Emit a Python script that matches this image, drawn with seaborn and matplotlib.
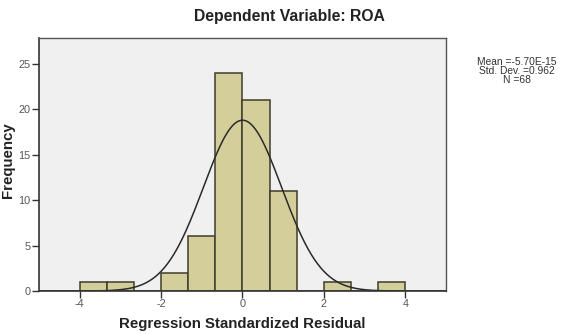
import numpy as np
import pandas as pd
import matplotlib
matplotlib.use("Agg")
import matplotlib.pyplot as plt
import seaborn as sns

# Data
bin_edges = [-4.0, -10/3, -8/3, -2.0, -4/3, -2/3, 0.0, 2/3, 4/3, 2.0, 8/3, 10/3, 4.0]
counts = [1, 1, 0, 2, 6, 24, 21, 11, 0, 1, 0, 1]
x_ticks = [-4, -2, 0, 2, 4]
y_ticks = [0, 5, 10, 15, 20, 25]
mean_val = -5.70e-15
std_val = 0.962
n_val = 68

sns.set_theme(style="white")
plt.rcParams['font.family'] = ['Liberation Sans', 'DejaVu Sans']

fig = plt.figure(figsize=(5.71, 3.34), dpi=100)
ax = fig.add_axes([39/571, 1 - 291/334, (446-39)/571, (291-38)/334])
ax.set_facecolor('#F0F0F0')

centers = [(bin_edges[i] + bin_edges[i+1]) / 2 for i in range(len(counts))]
df = pd.DataFrame({'x': centers, 'w': counts})
sns.histplot(data=df, x='x', weights='w', bins=bin_edges, ax=ax,
             color='#D4CF9A', edgecolor='#3E3C2C', linewidth=1.1, alpha=1)

# Normal curve
bw = bin_edges[1] - bin_edges[0]
xs = np.linspace(-5, 5, 400)
ys = n_val * bw * np.exp(-0.5 * ((xs - mean_val) / std_val) ** 2) / (std_val * np.sqrt(2 * np.pi))
sns.lineplot(x=xs, y=ys, ax=ax, color='#2A2A2A', linewidth=1.1)

ax.set_xlim(-5, 5)
ax.set_ylim(0, 27.85)
ax.set_xticks(x_ticks)
ax.set_yticks(y_ticks)
ax.set_xticklabels([str(t) for t in x_ticks], fontsize=7.8, color='#555555')
ax.set_yticklabels([str(t) for t in y_ticks], fontsize=7.8, color='#555555')
ax.tick_params(axis='both', direction='out', length=5, width=1, color='#333333', pad=1,
               bottom=True, left=True)
ax.set_xlabel('Regression Standardized Residual', fontsize=10.8, fontweight='bold', color='#222222')
ax.xaxis.set_label_coords(0.5, -(324 - 291) / 253)
ax.set_ylabel('Frequency', fontsize=10.8, fontweight='bold', color='#222222')
ax.yaxis.set_label_coords(-(39 - 8.5) / 407, (291 - 160) / 253)
for s in ['top', 'right']:
    ax.spines[s].set_color('#555555')
    ax.spines[s].set_linewidth(1)
for s in ['left', 'bottom']:
    ax.spines[s].set_color('#333333')
    ax.spines[s].set_linewidth(1.2)
ax.xaxis.label.set_verticalalignment('center')
ax.yaxis.label.set_verticalalignment('center')

fig.text(289/571, 1 - 16/334, 'Dependent Variable: ROA', ha='center', va='center',
         fontsize=11.3, fontweight='bold', color='#222222')
fig.text(517/571, 1 - 71/334, 'Mean =-5.70E-15\nStd. Dev. =0.962\nN =68', ha='center', va='center',
         fontsize=7.4, color='#333333', linespacing=0.92)

fig.savefig('out.png', dpi=100)
